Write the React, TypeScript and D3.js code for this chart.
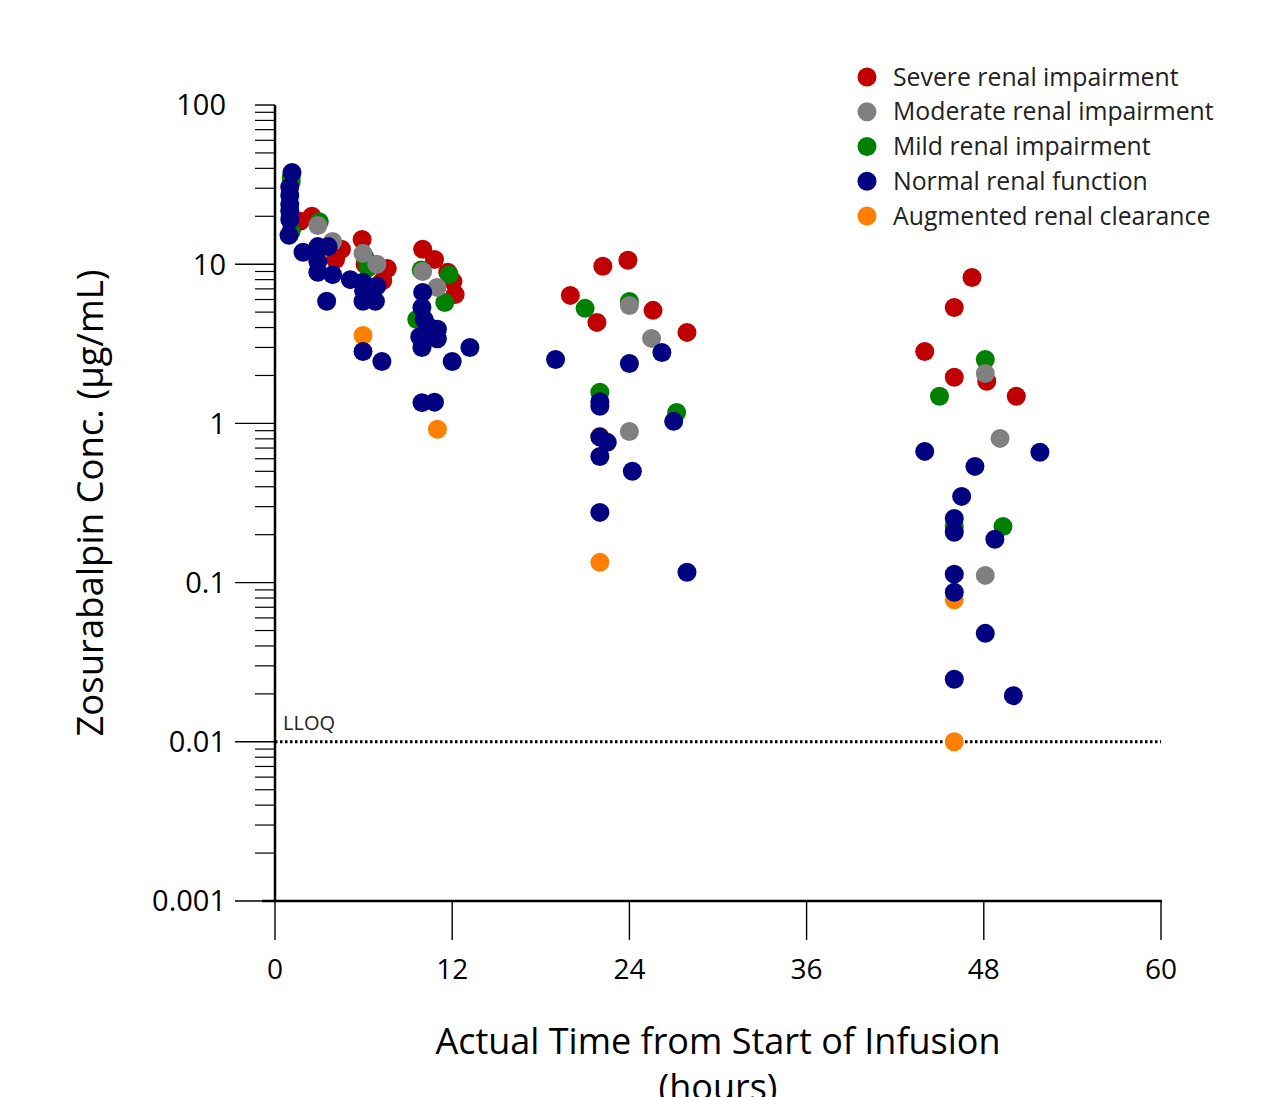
import React from 'react';
import * as d3 from 'd3';

// concentration data: [hours, ug/mL]
const severe: [number, number][] = [
  [1.7, 18.6], [2.5, 20], [1.15, 17], [4.1, 10.7], [4.5, 12.4], [5.9, 14.3], [6.1, 10], [7.3, 7.9], [7.6, 9.4],
  [10.0, 12.4], [10.8, 10.7], [11.7, 8.9], [12.05, 7.8], [12.2, 6.46],
  [20.0, 6.37], [21.8, 4.31], [22.2, 9.7], [23.9, 10.6], [25.6, 5.13], [27.9, 3.73],
  [44.0, 2.83], [46.0, 5.35], [46.0, 1.95], [47.2, 8.26], [48.2, 1.84], [50.2, 1.48],
];
const moderate: [number, number][] = [
  [2.9, 17.5], [3.9, 13.9], [5.96, 11.7], [6.9, 10.0], [10.0, 9.0], [10.97, 7.15],
  [24.0, 5.5], [25.5, 3.42], [24.0, 0.89], [48.1, 2.06], [49.1, 0.805], [48.1, 0.111],
];
const mild: [number, number][] = [
  [1.1, 35], [1.1, 33], [1.1, 16.1], [3.0, 18.5], [6.1, 11.0], [6.3, 9.5], [9.9, 9.2], [11.8, 8.6], [11.5, 5.75], [9.6, 4.5],
  [21.0, 5.28], [24.0, 5.84], [22.0, 1.57], [27.2, 1.17], [48.1, 2.52], [45.0, 1.48], [46.0, 0.225], [49.3, 0.225],
];
const normal: [number, number][] = [
  [1.15, 37.7], [1.0, 30.5], [1.0, 27], [1.0, 23.7], [1.0, 21.5], [1.0, 19.1], [0.95, 15.2], [1.9, 11.9], [2.9, 12.9],
  [3.6, 12.9], [2.9, 10.4], [2.9, 8.9], [3.9, 8.6], [5.1, 8.0], [5.96, 7.7], [6.9, 7.3], [6.0, 6.8], [5.96, 5.85],
  [6.8, 5.85], [3.5, 5.85], [5.96, 2.83], [7.24, 2.45],
  [10.0, 6.65], [9.95, 5.35], [10.1, 4.5], [10.5, 4.0], [11.0, 3.9], [9.8, 3.5], [11.0, 3.4], [9.95, 3.0],
  [12.0, 2.45], [13.2, 3.0], [9.95, 1.35], [10.8, 1.36],
  [19.0, 2.52], [26.2, 2.79], [24.0, 2.38], [22.0, 1.37], [22.0, 1.28], [27.0, 1.03], [22.0, 0.82], [22.5, 0.76],
  [22.0, 0.62], [24.2, 0.5], [22.0, 0.276], [27.9, 0.116],
  [44.0, 0.667], [51.8, 0.658], [47.4, 0.537], [46.5, 0.348], [46.0, 0.253], [46.0, 0.207], [48.75, 0.187],
  [46.0, 0.113], [46.0, 0.087], [48.1, 0.048], [46.0, 0.0247], [50.0, 0.0195],
];
const augmented: [number, number][] = [
  [5.96, 3.57], [11.0, 0.92], [10.4, 3.4], [22.0, 0.83], [22.0, 0.134], [46.0, 0.078], [46.0, 0.01],
];

const legendItems = [
  { name: 'Severe renal impairment', color: '#c00000' },
  { name: 'Moderate renal impairment', color: '#808080' },
  { name: 'Mild renal impairment', color: '#008000' },
  { name: 'Normal renal function', color: '#000080' },
  { name: 'Augmented renal clearance', color: '#ff8000' },
];

// draw order bottom -> top
const layers = [
  { data: augmented, color: '#ff8000' },
  { data: severe, color: '#c00000' },
  { data: mild, color: '#008000' },
  { data: moderate, color: '#808080' },
  { data: normal, color: '#000080' },
];

const xTicks = [0, 12, 24, 36, 48, 60];
const yMajor = [0.001, 0.01, 0.1, 1, 10, 100];
const LLOQ = 0.01;

const font = '"Open Sans", "Segoe UI", sans-serif';

export default function App() {
  const W = 1263, H = 1097;
  const x = d3.scaleLinear().domain([0, 60]).range([275, 1161]);
  const y = d3.scaleLog().domain([0.001, 100]).range([901, 105]);

  const minor: number[] = [];
  for (let e = -3; e < 2; e++) {
    for (let k = 2; k <= 9; k++) minor.push(k * Math.pow(10, e));
  }
  const fmt = (v: number) => (v >= 1 ? String(Math.round(v)) : String(+v.toPrecision(1)));

  return (
    <div style={{ position: 'absolute', left: 0, top: 0 }}>
      <svg width={W} height={H} style={{ display: 'block', background: '#fff' }}>
        {/* minor y ticks */}
        {minor.map((v, i) => (
          <line key={'m' + i} x1={255} x2={275} y1={y(v)} y2={y(v)} stroke="#000" strokeWidth={1.2} />
        ))}
        {yMajor.map((v) => (
          <g key={'M' + v}>
            <line x1={v === 100 ? 255 : 235} x2={275} y1={y(v)} y2={y(v)} stroke="#000" strokeWidth={1.4} />
            <text x={226} y={y(v)} dy="0.36em" textAnchor="end" fontFamily={font} fontSize={29} fill="#000">
              {fmt(v)}
            </text>
          </g>
        ))}
        {/* x ticks */}
        {xTicks.map((t) => (
          <g key={'x' + t}>
            <line x1={x(t)} x2={x(t)} y1={901} y2={940} stroke="#000" strokeWidth={1.4} />
            <text x={x(t)} y={979} textAnchor="middle" fontFamily={font} fontSize={28} fill="#000">
              {t}
            </text>
          </g>
        ))}
        {/* axes */}
        <line x1={275} x2={275} y1={105} y2={902} stroke="#000" strokeWidth={2.5} />
        <line x1={262} x2={1162} y1={901} y2={901} stroke="#000" strokeWidth={2.5} />

        {/* LLOQ */}
        <line x1={275} x2={1161} y1={y(LLOQ)} y2={y(LLOQ)} stroke="#000" strokeWidth={3} strokeDasharray="2.5,2.5" />
        <text x={283} y={y(LLOQ) - 12} fontFamily={font} fontSize={20} fill="#222">LLOQ</text>

        {/* points */}
        {layers.map((l, li) => (
          <g key={'l' + li}>
            {l.data.map((d, i) => (
              <circle key={i} cx={x(d[0])} cy={y(d[1])} r={9.5} fill={l.color} />
            ))}
          </g>
        ))}

        {/* legend */}
        {legendItems.map((it, i) => (
          <g key={it.name} transform={`translate(0, ${77 + i * 34.75})`}>
            <circle cx={867} cy={0} r={9.5} fill={it.color} />
            <text x={893} y={0} dy="0.35em" fontFamily={font} fontSize={24.8} fill="#222">
              {it.name}
            </text>
          </g>
        ))}

        {/* axis titles */}
        <text
          transform="translate(103, 503) rotate(-90)"
          textAnchor="middle"
          fontFamily={font}
          fontSize={36.5}
          fill="#000"
        >
          Zosurabalpin Conc. (µg/mL)
        </text>
        <text x={718} y={1054} textAnchor="middle" fontFamily={font} fontSize={36} fill="#000">
          Actual Time from Start of Infusion
        </text>
        <text x={718} y={1100} textAnchor="middle" fontFamily={font} fontSize={36} fill="#000">
          (hours)
        </text>
      </svg>
    </div>
  );
}
